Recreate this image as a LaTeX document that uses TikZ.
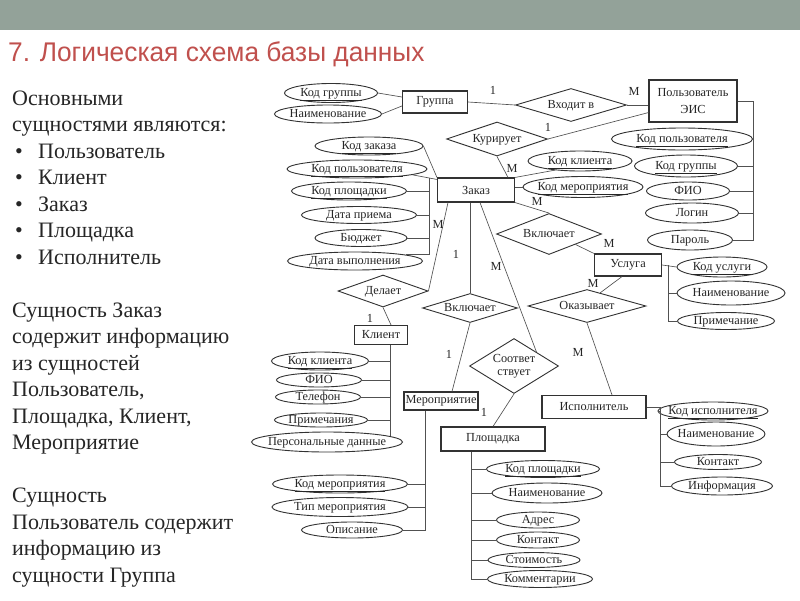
\documentclass[tikz,border=0pt]{standalone}
\usepackage{fontspec}
\setmainfont{Liberation Serif}
\newfontfamily\headfont{Liberation Sans}
\usetikzlibrary{shapes.geometric}

\definecolor{bandgreen}{RGB}{147,162,153}
\definecolor{headred}{RGB}{192,80,77}
\definecolor{ink}{RGB}{38,38,38}
\definecolor{erline}{RGB}{50,50,50}

\tikzset{
  erfont/.style={font=\fontsize{12.3}{13.5}\selectfont},
  flat text/.style={execute at begin node={\setbox0\hbox\bgroup},
    execute at end node={\egroup\makebox[0pt]{\raisebox{-0.55ex}[0pt][0pt]{\box0}}}},
  entity/.style 2 args={draw=erline, line width=1.1pt, rectangle, inner sep=0pt,
    minimum width=#1pt, minimum height=#2pt, erfont, text=ink},
  attr/.style 2 args={draw=erline, line width=0.9pt, ellipse, inner sep=0pt,
    minimum width=#1pt, minimum height=#2pt, erfont, text=ink, flat text},
  rel/.style 2 args={draw=erline, line width=0.9pt, diamond, inner sep=0pt,
    minimum width=#1pt, minimum height=#2pt, erfont, text=ink},
  link/.style={draw=erline!85, line width=0.65pt},
  card/.style={erfont, text=ink, inner sep=0pt},
  slide/.style={font=\fontsize{22}{26}\selectfont, text=ink, inner sep=0pt, anchor=base west},
}

\begin{document}
\begin{tikzpicture}[x=1pt, y=-1pt]
  \useasboundingbox (0,0) rectangle (800,600);
  \fill[white] (0,0) rectangle (800,600);

  % header
  \fill[bandgreen] (0,0) rectangle (800,30);
  \node[anchor=base west, inner sep=0pt, text=headred,
    font=\headfont\fontsize{27}{30}\selectfont] (title) at (8,61)
    {\scalebox{0.974}[1]{7. Логическая схема базы данных}};

  % text on the left
  \foreach \y/\txt [count=\i] in {105/Основными, 131.5/{сущностями являются:},
    317/{Сущность Заказ}, 343.5/{содержит информацию}, 370/{из сущностей},
    396.5/{Пользователь,}, 423/{Площадка, Клиент,}, 449.5/Мероприятие,
    502.5/Сущность, 529/{Пользователь содержит}, 555.5/{информацию из},
    582/{сущности Группа}}
    \node[slide] (line\i) at (12,\y) {\txt};
  \foreach \y/\txt [count=\i] in {158/Пользователь, 184.5/Клиент, 211/Заказ,
    237.5/Площадка, 264/Исполнитель} {
    \node[slide] (dot\i) at (15,\y) {•};
    \node[slide] (item\i) at (38,\y) {\txt};
  }

  % entities
  \node[entity={65}{22}] (gruppa) at (435,102) {Группа};
  \node[entity={88}{42}, align=center] (polz) at (693,101) {Пользователь\\[3pt]ЭИС};
  \node[entity={77}{24}] (zakaz) at (476,190) {Заказ};
  \node[entity={67}{22}] (usluga) at (628,265) {Услуга};
  \node[entity={53}{19}] (klient) at (381,335) {Клиент};
  \node[entity={74}{18}] (merop) at (441,401) {Мероприятие};
  \node[entity={104}{24}] (ploshch) at (493,439) {Площадка};
  \node[entity={104}{23}] (ispoln) at (594,407) {Исполнитель};

  % relationships
  \foreach \n/\x/\y/\w/\h/\txt in {vhodit/571/105/111/33/{Входит в},
    kuriruet/497/139/101/34/Курирует, vklusl/549/234/105/41/Включает,
    delaet/383/291/90/32/Делает, vklmer/470/308/95/29/Включает,
    okazyv/587/306/118/33/Оказывает}
    \node[rel={\w}{\h}, flat text] (\n) at (\x,\y) {\txt};
  \node[rel={89}{55}, aspect=1.6, align=center] (sootv) at (514,366) {Соответ\\ствует};

  \draw[link] (gruppa.east) -- (vhodit.west);
  \draw[link] (vhodit.east) -- (vhodit.east -| polz.west);
  \draw[link] (kuriruet.east) -- ([yshift=10pt]polz.south west);
  \draw[link] (kuriruet.south) -- ([xshift=32pt]zakaz.north);
  \draw[link] (zakaz.south east) -- (vklusl.north);
  \draw[link] (vklusl.south east) -- (usluga.north west);
  \draw[link] ([xshift=-28pt]zakaz.south) -- (delaet.east);
  \draw[link] (delaet.south) -- ([xshift=10pt]klient.north);
  \draw[link] ([xshift=-6pt]zakaz.south) -- (vklmer.north);
  \draw[link] (vklmer.south) -- ([xshift=11pt]merop.north);
  \draw[link] ([xshift=4pt]zakaz.south) -- (sootv.north east);
  \draw[link] (sootv.south) -- (ploshch.north);
  \draw[link] ([xshift=-6pt]usluga.south) -- (okazyv.45);
  \draw[link] (okazyv.south) -- ([xshift=18pt]ispoln.north);

  % cardinalities
  \foreach \x/\y/\c [count=\i] in {493/90/1, 634/91/M, 548/127/1, 512/168/M,
    537/201/M, 609/243/M, 438/224/M, 370/318/1, 456/254/1, 449/354/1,
    496/266/M, 484/412/1, 593/283/M, 578/352/M}
    \node[card] (card\i) at (\x,\y) {\c};

  % Группа
  \node[attr={93}{19}] (gr1) at (331,93) {\underline{Код группы}};
  \node[attr={107}{18}] (gr2) at (328,114) {Наименование};
  \draw[link] (gr1.east) -- ([yshift=5pt]gruppa.west);
  \draw[link] (gr2.east) -- ([yshift=-4pt]gruppa.west);

  % Заказ
  \node[attr={108}{18}] (zk1) at (369,146) {\underline{Код заказа}};
  \node[attr={140}{18}] (zk2) at (357,169) {\underline{Код пользователя}};
  \foreach \n/\x/\y/\w/\h/\txt in {zk3/349/191/115/18/{\underline{Код площадки}},
    zk4/359/215/115/17/{Дата приема}, zk5/361/238/92/17/Бюджет,
    zk6/355/261/135/18/{Дата выполнения}}
    \node[attr={\w}{\h}] (\n) at (\x,\y) {\txt};
  \node[attr={104}{20}] (zk7) at (580,161) {\underline{Код клиента}};
  \node[attr={120}{21}] (zk8) at (583,187) {\underline{Код мероприятия}};
  \coordinate (zkcomb) at (429,178);
  \draw[link] (zk1.east) -- (zakaz.north west);
  \draw[link] (zk2.-6) -- ([yshift=-2pt]zakaz.north west);
  \draw[link] (zkcomb) |- (zk6.7);
  \foreach \n in {zk3,zk4,zk5}
    \draw[link] (\n.east) -- (\n.east -| zkcomb);
  \draw[link] (zakaz.north east) -- (zk7.200);
  \draw[link] (zk8.west) -- (zk8.west -| zakaz.east);

  % Пользователь ЭИС
  \foreach \n/\x/\y/\w/\h/\txt in {pl1/682/139/141/22/{\underline{Код пользователя}},
    pl2/686/166/103/22/{\underline{Код группы}}, pl3/688/191/83/18/ФИО,
    pl4/692/213/93/20/Логин, pl5/690/240/85/20/Пароль}
    \node[attr={\w}{\h}] (\n) at (\x,\y) {\txt};
  \coordinate (plcomb) at (753,240);
  \draw[link] (polz.east) -| (plcomb) -- (pl5.east);
  \foreach \n in {pl1,pl2,pl3,pl4}
    \draw[link] (\n.east) -- (\n.east -| plcomb);

  % Услуга
  \node[attr={90}{20}] (uk1) at (722,267) {\underline{Код услуги}};
  \node[attr={108}{24}] (uk2) at (731,293) {Наименование};
  \node[attr={97}{17}] (uk3) at (726,321) {Примечание};
  \coordinate (ukcomb) at (668,265);
  \draw[link] (usluga.east) -- (uk1.west);
  \draw[link] (ukcomb) |- (uk3.west);
  \draw[link] (uk2.west) -- (uk2.west -| ukcomb);

  % Клиент
  \foreach \n/\x/\y/\w/\h/\txt in {kl1/320/361/97/18/{\underline{Код клиента}},
    kl2/319/380/85/14/ФИО, kl3/318/397/85/14/Телефон,
    kl4/321/420/93/14/Примечания, kl5/327/442/151/20/{Персональные данные}}
    \node[attr={\w}{\h}] (\n) at (\x,\y) {\txt};
  \coordinate (klcomb) at (390,436);
  \draw[link] ([xshift=9pt]klient.south) -- (klcomb);
  \foreach \n in {kl1,kl2,kl3,kl4}
    \draw[link] (\n.east) -- (\n.east -| klcomb);

  % Мероприятие
  \node[attr={135}{18}] (mr1) at (340,484) {\underline{Код мероприятия}};
  \node[attr={136}{19}] (mr2) at (340,507) {Тип мероприятия};
  \node[attr={101}{16}] (mr3) at (352,530) {Описание};
  \coordinate (mrcomb) at ([xshift=-16pt]merop.south);
  \draw[link] (mrcomb) |- (mr3.east);
  \foreach \n in {mr1,mr2}
    \draw[link] (\n.east) -- (\n.east -| mrcomb);

  % Площадка
  \foreach \x/\y/\w/\h/\txt [count=\i] in {543/469/113/17/{\underline{Код площадки}},
    547/493/110/20/Наименование, 538/520/83/16/Адрес, 538/540/83/16/Контакт,
    534/560/92/15/Стоимость, 540/579/105/17/Комментарии}
    \node[attr={\w}{\h}] (ps\i) at (\x,\y) {\txt};
  \coordinate (pscomb) at ([xshift=-22pt]ploshch.south);
  \draw[link] (pscomb) |- (ps6.west);
  \foreach \i in {1,...,5}
    \draw[link] (ps\i.west) -- (ps\i.west -| pscomb);

  % Исполнитель
  \foreach \x/\y/\w/\h/\txt [count=\i] in {713/411/110/18/{\underline{Код исполнителя}},
    716/434/98/24/Наименование, 718/462/87/15/Контакт, 722/486/101/18/Информация}
    \node[attr={\w}{\h}] (is\i) at (\x,\y) {\txt};
  \coordinate (iscomb) at (660,486);
  \draw[link] (ispoln.east) -| (iscomb) -- (is4.west);
  \foreach \i in {1,2,3}
    \draw[link] (is\i.west) -- (is\i.west -| iscomb);

\end{tikzpicture}
\end{document}
